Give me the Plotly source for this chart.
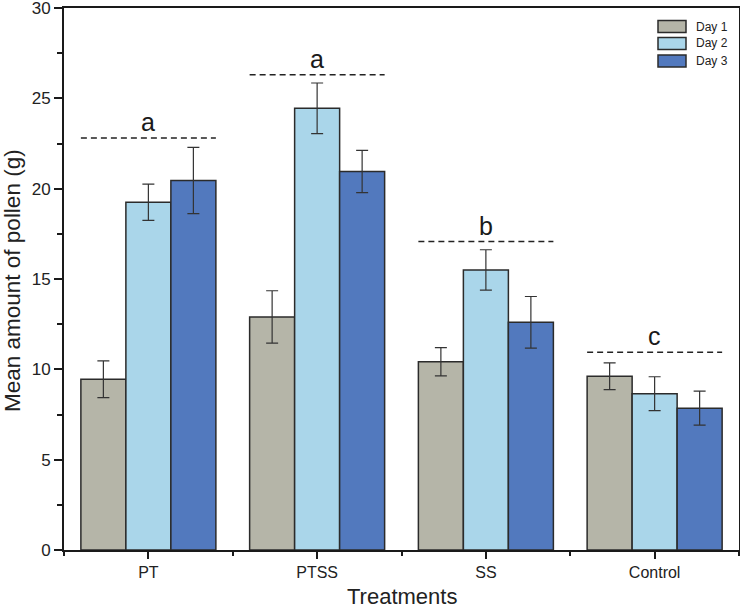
import plotly.graph_objects as go

categories = ["PT", "PTSS", "SS", "Control"]
series_names = ["Day 1", "Day 2", "Day 3"]
day1 = [9.45, 12.9, 10.42, 9.62]
day2 = [19.25, 24.45, 15.5, 8.65]
day3 = [20.45, 20.95, 12.6, 7.85]
err1 = [1.02, 1.45, 0.78, 0.74]
err2 = [1.0, 1.4, 1.12, 0.94]
err3 = [1.83, 1.17, 1.43, 0.94]
sig_letters = ["a", "a", "b", "c"]
sig_heights = [22.8, 26.3, 17.07, 10.95]
x_title = "Treatments"
y_title = "Mean amount of pollen (g)"

colors = ["#b5b5a8", "#aad6ea", "#5279be"]
edge = "#2b2b2b"
FONT = "Liberation Sans, Arial"

W, H = 740, 608
ML, MR, MT, MB = 64, 1, 8, 58
PW, PH = W - ML - MR, H - MT - MB

xs = list(range(len(categories)))
fig = go.Figure()
for name, vals, errs, col in zip(series_names, [day1, day2, day3], [err1, err2, err3], colors):
    fig.add_trace(go.Bar(
        x=xs, y=vals, name=name,
        marker=dict(color=col, line=dict(color=edge, width=1.5)),
        error_y=dict(type="data", array=errs, visible=True, color="#333333", thickness=1.2, width=6),
        showlegend=False,
    ))

# significance lines and letters
for i, (lt, h) in enumerate(zip(sig_letters, sig_heights)):
    fig.add_shape(type="line", xref="x", yref="y", x0=i - 0.4, x1=i + 0.4, y0=h, y1=h,
                  line=dict(color="#222222", width=1.5, dash="6px,4px"))
    fig.add_annotation(x=i, y=h, xref="x", yref="y", text=lt, showarrow=False,
                       yanchor="bottom", yshift=0,
                       font=dict(family=FONT, size=25, color="#1a1a1a"))

def px_x(p):
    return (p - ML) / PW

def px_y(p):
    return (MT + PH - p) / PH

# legend (drawn manually)
rows = [26.5, 43.5, 61]
for name, col, yc in zip(series_names, colors, rows):
    fig.add_shape(type="rect", xref="paper", yref="paper",
                  x0=px_x(658), x1=px_x(686), y0=px_y(yc + 6), y1=px_y(yc - 6),
                  fillcolor=col, line=dict(color=edge, width=1.5))
    fig.add_annotation(xref="paper", yref="paper", x=px_x(694), y=px_y(yc), text=name,
                       showarrow=False, xanchor="left", yanchor="middle",
                       font=dict(family=FONT, size=12, color="#222222"))

# axis titles
fig.add_annotation(xref="paper", yref="paper", x=0.5, y=px_y(596.5), text=x_title,
                   showarrow=False, xanchor="center", yanchor="middle",
                   font=dict(family=FONT, size=22, color="#222222"))
fig.add_annotation(xref="paper", yref="paper", x=px_x(12), y=px_y(281), text=y_title,
                   showarrow=False, xanchor="center", yanchor="middle", textangle=-90,
                   font=dict(family=FONT, size=22.5, color="#222222"))

fig.update_layout(
    width=W, height=H,
    margin=dict(l=ML, r=MR, t=MT, b=MB, autoexpand=False),
    plot_bgcolor="white", paper_bgcolor="white",
    barmode="group", bargap=0.2, bargroupgap=0,
    font=dict(family=FONT, color="#222222"),
    showlegend=False,
)
fig.update_xaxes(
    range=[-0.5, 3.5], tickmode="array", tickvals=xs, ticktext=categories,
    showline=True, linecolor="#1a1a1a", linewidth=2, mirror=True,
    ticks="outside", ticklen=7, tickwidth=2, tickcolor="#1a1a1a",
    minor=dict(tickmode="array", tickvals=[-0.5, 0.5, 1.5, 2.5, 3.5], ticks="outside", ticklen=4, tickwidth=2, tickcolor="#1a1a1a"),
    showgrid=False, zeroline=False, automargin=False, ticklabeloverflow="allow",
    tickfont=dict(size=16, color="#222222"),
)
fig.update_yaxes(
    range=[0, 30], tickmode="linear", tick0=0, dtick=5,
    showline=True, linecolor="#1a1a1a", linewidth=2, mirror=True,
    ticks="outside", ticklen=8, tickwidth=2, tickcolor="#1a1a1a",
    minor=dict(tickmode="linear", tick0=0, dtick=2.5, ticks="outside", ticklen=5, tickwidth=2, tickcolor="#1a1a1a"),
    showgrid=False, zeroline=False, automargin=False, ticklabeloverflow="allow",
    tickfont=dict(size=17, color="#222222"),
)

fig.write_html("out.html", config={"displayModeBar": False},
               post_script="document.body.style.margin='0';")
